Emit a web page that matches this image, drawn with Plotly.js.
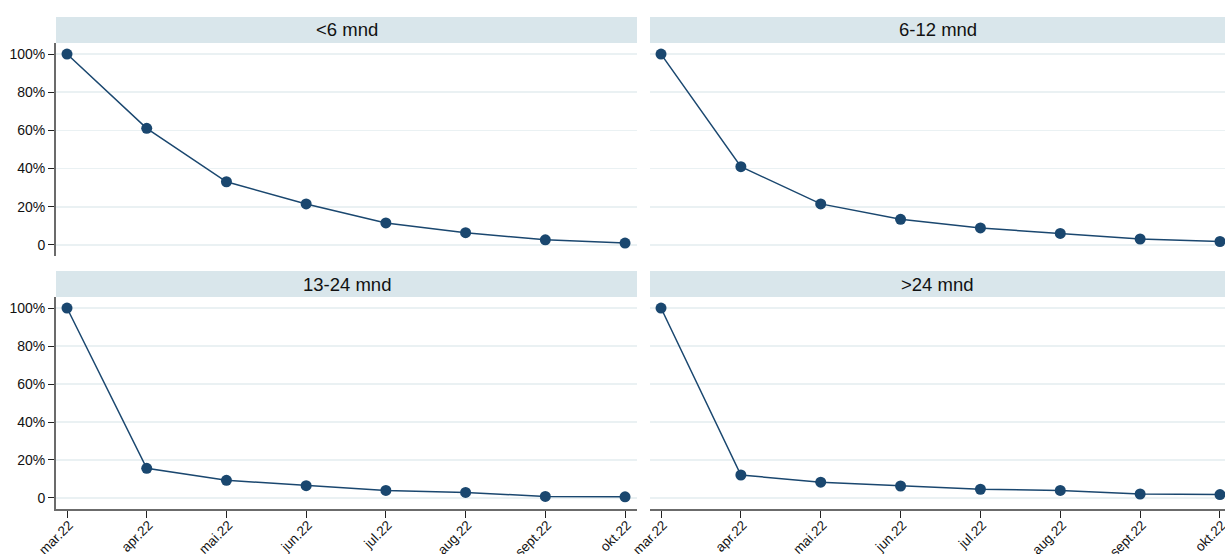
<!DOCTYPE html>
<html>
<head>
<meta charset="utf-8">
<script src="https://cdn.plot.ly/plotly-3.0.1.min.js"></script>
<style>html,body{margin:0;padding:0;background:#fff}#chart{width:1225px;height:554px}</style>
</head>
<body>
<div id="chart"></div>
<script>
// Data
var months = ["mar.22","apr.22","mai.22","jun.22","jul.22","aug.22","sept.22","okt.22"];
var panelTitles = ["<6 mnd","6-12 mnd","13-24 mnd",">24 mnd"];
var under6 = [100, 61.1, 33.1, 21.5, 11.5, 6.4, 2.7, 1.0];
var m6to12 = [100, 41.0, 21.5, 13.4, 8.9, 6.0, 3.1, 1.8];
var m13to24 = [100, 15.6, 9.3, 6.5, 4.0, 2.9, 0.8, 0.6];
var over24 = [100, 12.1, 8.3, 6.3, 4.6, 4.0, 2.1, 1.8];
var yTickVals = [0, 20, 40, 60, 80, 100];
var yTickText = ["0", "20%", "40%", "60%", "80%", "100%"];

var series = [under6, m6to12, m13to24, over24];
var W = 1225, H = 554;
var font = "Liberation Sans, Arial, sans-serif";
var lineCol = "#1a476f";
var gridCol = "#eaf1f3";
var axisCol = "#6b6b6b";
var headCol = "#d9e6eb";

// panel pixel geometry: [left, right, top, bottom]
var geo = [
  [56, 637, 43, 256],
  [650, 1225, 43, 256],
  [56, 637, 297, 509],
  [650, 1225, 297, 509]
];
var xRanges = [[-0.138, 7.15], [-0.138, 7.063], [-0.138, 7.15], [-0.138, 7.063]];

var traces = [];
var layout = {
  width: W, height: H,
  margin: {l: 0, r: 0, t: 0, b: 0},
  paper_bgcolor: "#fff", plot_bgcolor: "rgba(0,0,0,0)",
  showlegend: false,
  font: {family: font, size: 13, color: "#111"},
  shapes: [], annotations: []
};

var xIdx = months.map(function(_, i){ return i; });

for (var p = 0; p < 4; p++) {
  var g = geo[p];
  var n = p === 0 ? "" : String(p + 1);
  traces.push({
    type: "scatter", mode: "lines+markers",
    x: xIdx, y: series[p],
    xaxis: "x" + n, yaxis: "y" + n,
    line: {color: lineCol, width: 1.5},
    marker: {color: lineCol, size: 11, symbol: "circle"},
    hoverinfo: "skip", cliponaxis: false
  });
  var isBottom = p >= 2, isLeft = (p % 2 === 0);
  layout["xaxis" + n] = {
    domain: [g[0] / W, g[1] / W],
    anchor: "y" + n,
    range: xRanges[p],
    tickmode: "array", tickvals: xIdx, ticktext: months,
    showticklabels: isBottom,
    ticks: isBottom ? "outside" : "",
    ticklen: 7, tickwidth: 1, tickcolor: "#222",
    tickangle: -45,
    ticklabeloverflow: "allow",
    ticklabelstandoff: -6,
    ticklabelshift: 2,
    tickfont: {family: font, size: 13.5, color: "#111"},
    showgrid: false, zeroline: false,
    showline: isBottom, linecolor: axisCol, linewidth: 2,
    fixedrange: true
  };
  layout["yaxis" + n] = {
    domain: [1 - g[3] / H, 1 - g[2] / H],
    anchor: "x" + n,
    range: [-5.8, 105.8],
    tickmode: "array", tickvals: yTickVals, ticktext: yTickText,
    showticklabels: isLeft,
    ticks: isLeft ? "outside" : "",
    ticklen: 6, tickwidth: 1, tickcolor: "#222",
    tickfont: {family: font, size: 14, color: "#111"},
    showgrid: true, gridcolor: gridCol, gridwidth: 1.5,
    zeroline: false,
    showline: isLeft, linecolor: axisCol, linewidth: 2,
    fixedrange: true
  };
  // strip header
  var headTop = g[2] - 26;
  layout.shapes.push({
    type: "rect", xref: "paper", yref: "paper",
    x0: g[0] / W, x1: g[1] / W,
    y0: 1 - g[2] / H, y1: 1 - headTop / H,
    fillcolor: headCol, line: {width: 0}, layer: "below"
  });
  layout.annotations.push({
    xref: "paper", yref: "paper",
    x: (g[0] + g[1]) / 2 / W, y: 1 - (headTop + 13) / H,
    xanchor: "center", yanchor: "middle",
    text: panelTitles[p].replace("<", "&lt;").replace(">", "&gt;"),
    showarrow: false,
    font: {family: font, size: 18.5, color: "#111"}
  });
}

Plotly.newPlot("chart", traces, layout, {displayModeBar: false, staticPlot: true});
</script>
</body>
</html>
